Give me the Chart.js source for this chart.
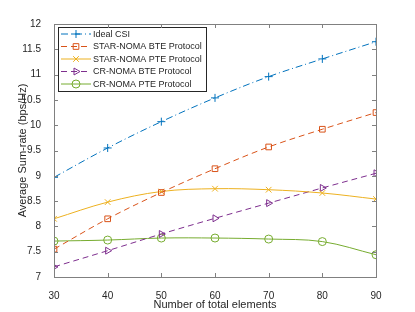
<!DOCTYPE html>
<html lang="en">
<head>
  <meta charset="UTF-8" />
  <title>Average Sum-rate</title>
  <script src="https://cdn.jsdelivr.net/npm/chart.js"></script>
  <style>
    html, body { margin: 0; padding: 0; background: #fff; }
    #wrap { width: 415px; height: 312px; }
  </style>
</head>
<body>
  <div id="wrap"><canvas id="rateChart" width="415" height="312"></canvas></div>

  <script>
    // values
    const elements = [30, 40, 50, 60, 70, 80, 90];
    const idealCsi = [8.97, 9.55, 10.07, 10.54, 10.96, 11.31, 11.65];
    const starBte  = [7.55, 8.15, 8.67, 9.14, 9.57, 9.92, 10.25];
    const starPte  = [8.15, 8.48, 8.69, 8.745, 8.725, 8.66, 8.54];
    const crBte    = [7.20, 7.52, 7.85, 8.16, 8.46, 8.76, 9.05];
    const crPte    = [7.71, 7.73, 7.77, 7.77, 7.75, 7.70, 7.44];
    const yTicks   = [7, 7.5, 8, 8.5, 9, 9.5, 10, 10.5, 11, 11.5, 12];

    const axisGray = '#808080';
    const textGray = '#262626';
    const font = 'Liberation Sans, Arial, sans-serif';

    function series(label, values, color, dash, style, rotation) {
      return {
        label: label,
        data: values.map((v, i) => ({ x: elements[i], y: v })),
        borderColor: color,
        backgroundColor: 'rgba(0,0,0,0)',
        borderWidth: 1,
        borderDash: dash,
        pointStyle: style,
        pointRotation: rotation || 0,
        pointRadius: 4,
        pointBorderWidth: 1,
        pointBorderColor: color,
        pointBackgroundColor: 'rgba(0,0,0,0)',
        tension: 0.35,
        fill: false
      };
    }

    // legend drawn inside the plot, top-left, MATLAB style
    const insideLegend = {
      id: 'insideLegend',
      afterDatasetsDraw(chart) {
        const ctx = chart.ctx;
        const x0 = 58, y0 = 27, w = 148, h = 64;
        ctx.save();
        ctx.fillStyle = '#fff';
        ctx.fillRect(x0, y0, w, h);
        ctx.strokeStyle = '#262626';
        ctx.lineWidth = 1;
        ctx.strokeRect(x0 + 0.5, y0 + 0.5, w, h);
        chart.data.datasets.forEach((ds, i) => {
          const y = 34 + i * 12.5;
          ctx.strokeStyle = ds.borderColor;
          ctx.lineWidth = 1;
          ctx.setLineDash(ds.borderDash);
          ctx.beginPath();
          ctx.moveTo(61, y);
          ctx.lineTo(91, y);
          ctx.stroke();
          ctx.setLineDash([]);
          ctx.fillStyle = 'rgba(0,0,0,0)';
          Chart.helpers.drawPoint(ctx, {
            pointStyle: ds.pointStyle, radius: 4, rotation: ds.pointRotation, borderWidth: 1
          }, 76, y);
          ctx.fillStyle = textGray;
          ctx.font = '9px ' + font;
          ctx.textBaseline = 'middle';
          ctx.textAlign = 'left';
          ctx.fillText(ds.label, 93, y + 0.5);
        });
        ctx.restore();
      }
    };

    // box around the axes with inward ticks
    const boxTicks = {
      id: 'boxTicks',
      afterDraw(chart) {
        const { ctx, chartArea: a, scales } = chart;
        ctx.save();
        ctx.strokeStyle = axisGray;
        ctx.lineWidth = 1;
        ctx.strokeRect(Math.round(a.left) + 0.5, Math.round(a.top) + 0.5,
          Math.round(a.right - a.left), Math.round(a.bottom - a.top));
        ctx.beginPath();
        yTicks.forEach(t => {
          const y = Math.round(scales.y.getPixelForValue(t)) + 0.5;
          ctx.moveTo(a.left, y); ctx.lineTo(a.left + 4, y);
          ctx.moveTo(a.right, y); ctx.lineTo(a.right - 4, y);
        });
        elements.forEach(t => {
          const x = Math.round(scales.x.getPixelForValue(t)) + 0.5;
          ctx.moveTo(x, a.bottom); ctx.lineTo(x, a.bottom - 4);
          ctx.moveTo(x, a.top); ctx.lineTo(x, a.top + 4);
        });
        ctx.stroke();
        ctx.restore();
      }
    };

    new Chart(document.getElementById('rateChart'), {
      type: 'line',
      data: {
        datasets: [
          series('Ideal CSI', idealCsi, '#0072BD', [7, 3, 1, 3], 'cross'),
          series('STAR-NOMA BTE Protocol', starBte, '#D95319', [6, 4], 'rect'),
          series('STAR-NOMA PTE Protocol', starPte, '#EDB120', [], 'crossRot'),
          series('CR-NOMA BTE Protocol', crBte, '#7E2F8E', [6, 4], 'triangle', 90),
          series('CR-NOMA PTE Protocol', crPte, '#77AC30', [], 'circle')
        ]
      },
      options: {
        responsive: false,
        animation: false,
        layout: { padding: { top: 24, right: 39, left: 0, bottom: 0 } },
        plugins: {
          legend: { display: false },
          tooltip: { enabled: false }
        },
        scales: {
          x: {
            type: 'linear',
            min: 30, max: 90,
            afterFit: s => { s.height = 35; },
            afterBuildTicks: s => { s.ticks = elements.map(v => ({ value: v })); },
            grid: { display: false },
            border: { display: false },
            ticks: { color: textGray, font: { family: font, size: 10 }, padding: 5, maxRotation: 0 },
            title: {
              display: true, text: 'Number of total elements', color: textGray,
              font: { family: font, size: 11 }, padding: { top: 2, bottom: 0 }
            }
          },
          y: {
            min: 7, max: 12,
            afterFit: s => { s.width = 54; },
            afterBuildTicks: s => { s.ticks = yTicks.map(v => ({ value: v })); },
            grid: { display: false },
            border: { display: false },
            ticks: {
              color: textGray, font: { family: font, size: 10 }, padding: 5,
              callback: v => String(v)
            },
            title: {
              display: true, text: 'Average Sum-rate (bps/Hz)', color: textGray,
              font: { family: font, size: 11 }, padding: { top: 16, bottom: 4 }
            }
          }
        }
      },
      plugins: [insideLegend, boxTicks]
    });
  </script>
</body>
</html>
